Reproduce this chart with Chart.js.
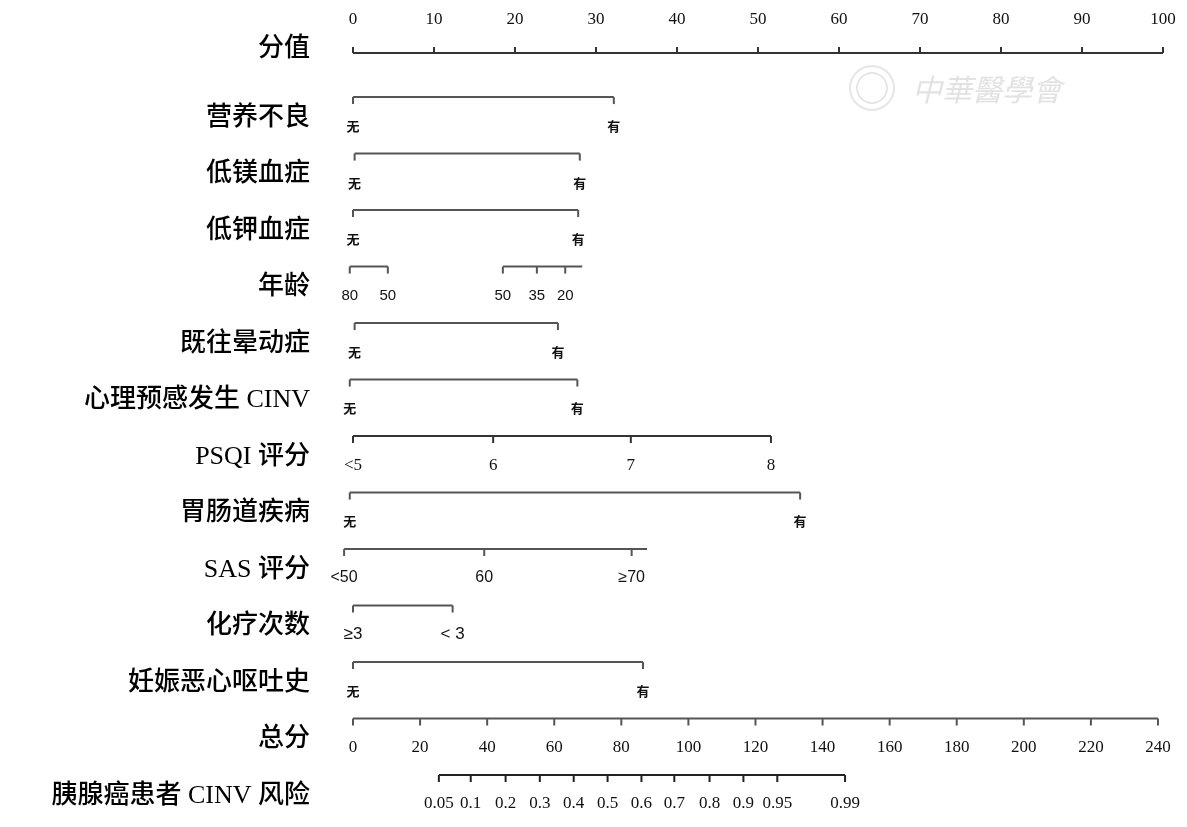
<!DOCTYPE html>
<html>
<head>
<meta charset="utf-8">
<script src="https://cdn.jsdelivr.net/npm/chart.js@4"></script>
<style>
  body { margin: 0; background: #fff; }
  #wrap { width: 1187px; height: 827px; }
</style>
</head>
<body>
<div id="wrap"><canvas id="nomo"></canvas></div>
<script>
// row names, top to bottom
const rowNames = ['分值', '营养不良', '低镁血症', '低钾血症', '年龄', '既往晕动症', '心理预感发生 CINV',
  'PSQI 评分', '胃肠道疾病', 'SAS 评分', '化疗次数', '妊娠恶心呕吐史', '总分', '胰腺癌患者 CINV 风险'];

// points scale
const pointLabels = ['0', '10', '20', '30', '40', '50', '60', '70', '80', '90', '100'];
const pointValues = [0, 10, 20, 30, 40, 50, 60, 70, 80, 90, 100];

// predictors; '' = line end without a tick
const malnutritionLabels = ['无', '有'];
const malnutritionPts = [0, 32.2];
const lowMgLabels = ['无', '有'];
const lowMgPts = [0.2, 28.0];
const lowKLabels = ['无', '有'];
const lowKPts = [0, 27.8];
const ageLabelsA = ['80', '50'];
const agePtsA = [-0.4, 4.3];
const ageLabelsB = ['50', '35', '20', ''];
const agePtsB = [18.5, 22.7, 26.2, 28.3];
const motionLabels = ['无', '有'];
const motionPts = [0.2, 25.3];
const anticipLabels = ['无', '有'];
const anticipPts = [-0.4, 27.7];
const psqiLabels = ['<5', '6', '7', '8'];
const psqiPts = [0, 17.3, 34.3, 51.6];
const giLabels = ['无', '有'];
const giPts = [-0.4, 55.2];
const sasLabels = ['<50', '60', '≥70', ''];
const sasPts = [-1.1, 16.2, 34.4, 36.3];
const chemoLabels = ['≥3', '< 3'];
const chemoPts = [0, 12.3];
const pregLabels = ['无', '有'];
const pregPts = [0, 35.8];

// total points and risk
const totalLabels = ['0', '20', '40', '60', '80', '100', '120', '140', '160', '180', '200', '220', '240'];
const totalValues = [0, 20, 40, 60, 80, 100, 120, 140, 160, 180, 200, 220, 240];
const riskLabels = ['0.05', '0.1', '0.2', '0.3', '0.4', '0.5', '0.6', '0.7', '0.8', '0.9', '0.95', '0.99'];
const riskTotals = [25.6, 35.1, 45.5, 55.7, 65.8, 75.9, 86.0, 95.8, 106.3, 116.4, 126.5, 146.7];

const SERIF = '"Liberation Serif", "Noto Sans CJK SC", serif';
const SANS = '"Liberation Sans", "Noto Sans CJK SC", sans-serif';
const CJK = '"Noto Sans CJK SC", sans-serif';

// row layout: which segments sit on each row
const rows = [
  { segs: [[pointLabels, pointValues]], axis: 'x', top: true, font: '17px ' + SERIF, color: '#333' },
  { segs: [[malnutritionLabels, malnutritionPts]], font: 'bold 13px ' + CJK },
  { segs: [[lowMgLabels, lowMgPts]], font: 'bold 13px ' + CJK },
  { segs: [[lowKLabels, lowKPts]], font: 'bold 13px ' + CJK },
  { segs: [[ageLabelsA, agePtsA], [ageLabelsB, agePtsB]], font: '15px ' + SANS },
  { segs: [[motionLabels, motionPts]], font: 'bold 13px ' + CJK },
  { segs: [[anticipLabels, anticipPts]], font: 'bold 13px ' + CJK },
  { segs: [[psqiLabels, psqiPts]], font: '17px ' + SERIF, color: '#333' },
  { segs: [[giLabels, giPts]], font: 'bold 13px ' + CJK },
  { segs: [[sasLabels, sasPts]], font: '16px ' + SANS },
  { segs: [[chemoLabels, chemoPts]], font: '17px ' + SANS },
  { segs: [[pregLabels, pregPts]], font: 'bold 13px ' + CJK },
  { segs: [[totalLabels, totalValues]], axis: 'x2', font: '17px ' + SERIF },
  { segs: [[riskLabels, riskTotals]], axis: 'x2', font: '17px ' + SERIF, color: '#222' }
];
const rowPos = [0.22, 1, 2, 3, 4, 5, 6, 7, 8, 9, 10, 11, 12, 13];

const datasets = [];
rows.forEach((r, i) => {
  r.segs.forEach(s => {
    datasets.push({
      data: s[1].map(v => ({ x: v, y: rowPos[i] })),
      xAxisID: r.axis || 'x',
      showLine: true,
      borderColor: r.color || '#555',
      borderWidth: 2,
      pointRadius: 0,
      clip: false
    });
  });
});

const nomoPlugin = {
  id: 'nomo',
  beforeDraw(chart) {
    const ctx = chart.ctx;
    // faint watermark
    ctx.save();
    ctx.strokeStyle = '#e6e6e6';
    ctx.lineWidth = 2;
    ctx.beginPath();
    ctx.arc(872, 88, 22, 0, Math.PI * 2);
    ctx.stroke();
    ctx.beginPath();
    ctx.arc(872, 88, 15, 0, Math.PI * 2);
    ctx.stroke();
    ctx.fillStyle = '#e2e2e2';
    ctx.font = 'italic 30px ' + CJK;
    ctx.textBaseline = 'middle';
    ctx.fillText('中華醫學會', 912, 90);
    ctx.restore();
  },
  afterDatasetsDraw(chart) {
    const ctx = chart.ctx;
    const ys = chart.scales.y;
    ctx.save();
    rows.forEach((r, i) => {
      const xs = chart.scales[r.axis || 'x'];
      const py = ys.getPixelForValue(rowPos[i]);
      ctx.strokeStyle = r.color || '#555';
      ctx.lineWidth = 2;
      ctx.fillStyle = '#111';
      ctx.font = r.font;
      ctx.textAlign = 'center';
      ctx.textBaseline = 'middle';
      r.segs.forEach(s => {
        s[0].forEach((lab, k) => {
          if (lab === '') return;
          const px = xs.getPixelForValue(s[1][k]);
          ctx.beginPath();
          if (r.top) {
            ctx.moveTo(px, py);
            ctx.lineTo(px, py - 6);
          } else {
            ctx.moveTo(px, py);
            ctx.lineTo(px, py + 7);
          }
          ctx.stroke();
          ctx.fillText(lab, px, r.top ? py - 33 : py + 29);
        });
      });
      // row name
      ctx.font = '500 26px ' + SERIF;
      ctx.textAlign = 'right';
      ctx.fillStyle = '#000';
      ctx.fillText(rowNames[i], 310, i === 0 ? py - 4 : py + 21);
    });
    ctx.restore();
  }
};

new Chart(document.getElementById('nomo'), {
  type: 'scatter',
  data: { datasets: datasets },
  options: {
    responsive: true,
    maintainAspectRatio: false,
    animation: false,
    events: [],
    layout: { padding: { left: 353, right: 24, top: 40.6, bottom: 52 } },
    plugins: { legend: { display: false }, tooltip: { enabled: false } },
    scales: {
      x: { type: 'linear', min: 0, max: 100, display: false },
      x2: { type: 'linear', min: 0, max: 241.5, display: false },
      y: { type: 'linear', min: 0, max: 13, reverse: true, display: false }
    }
  },
  plugins: [nomoPlugin]
});
</script>
</body>
</html>
